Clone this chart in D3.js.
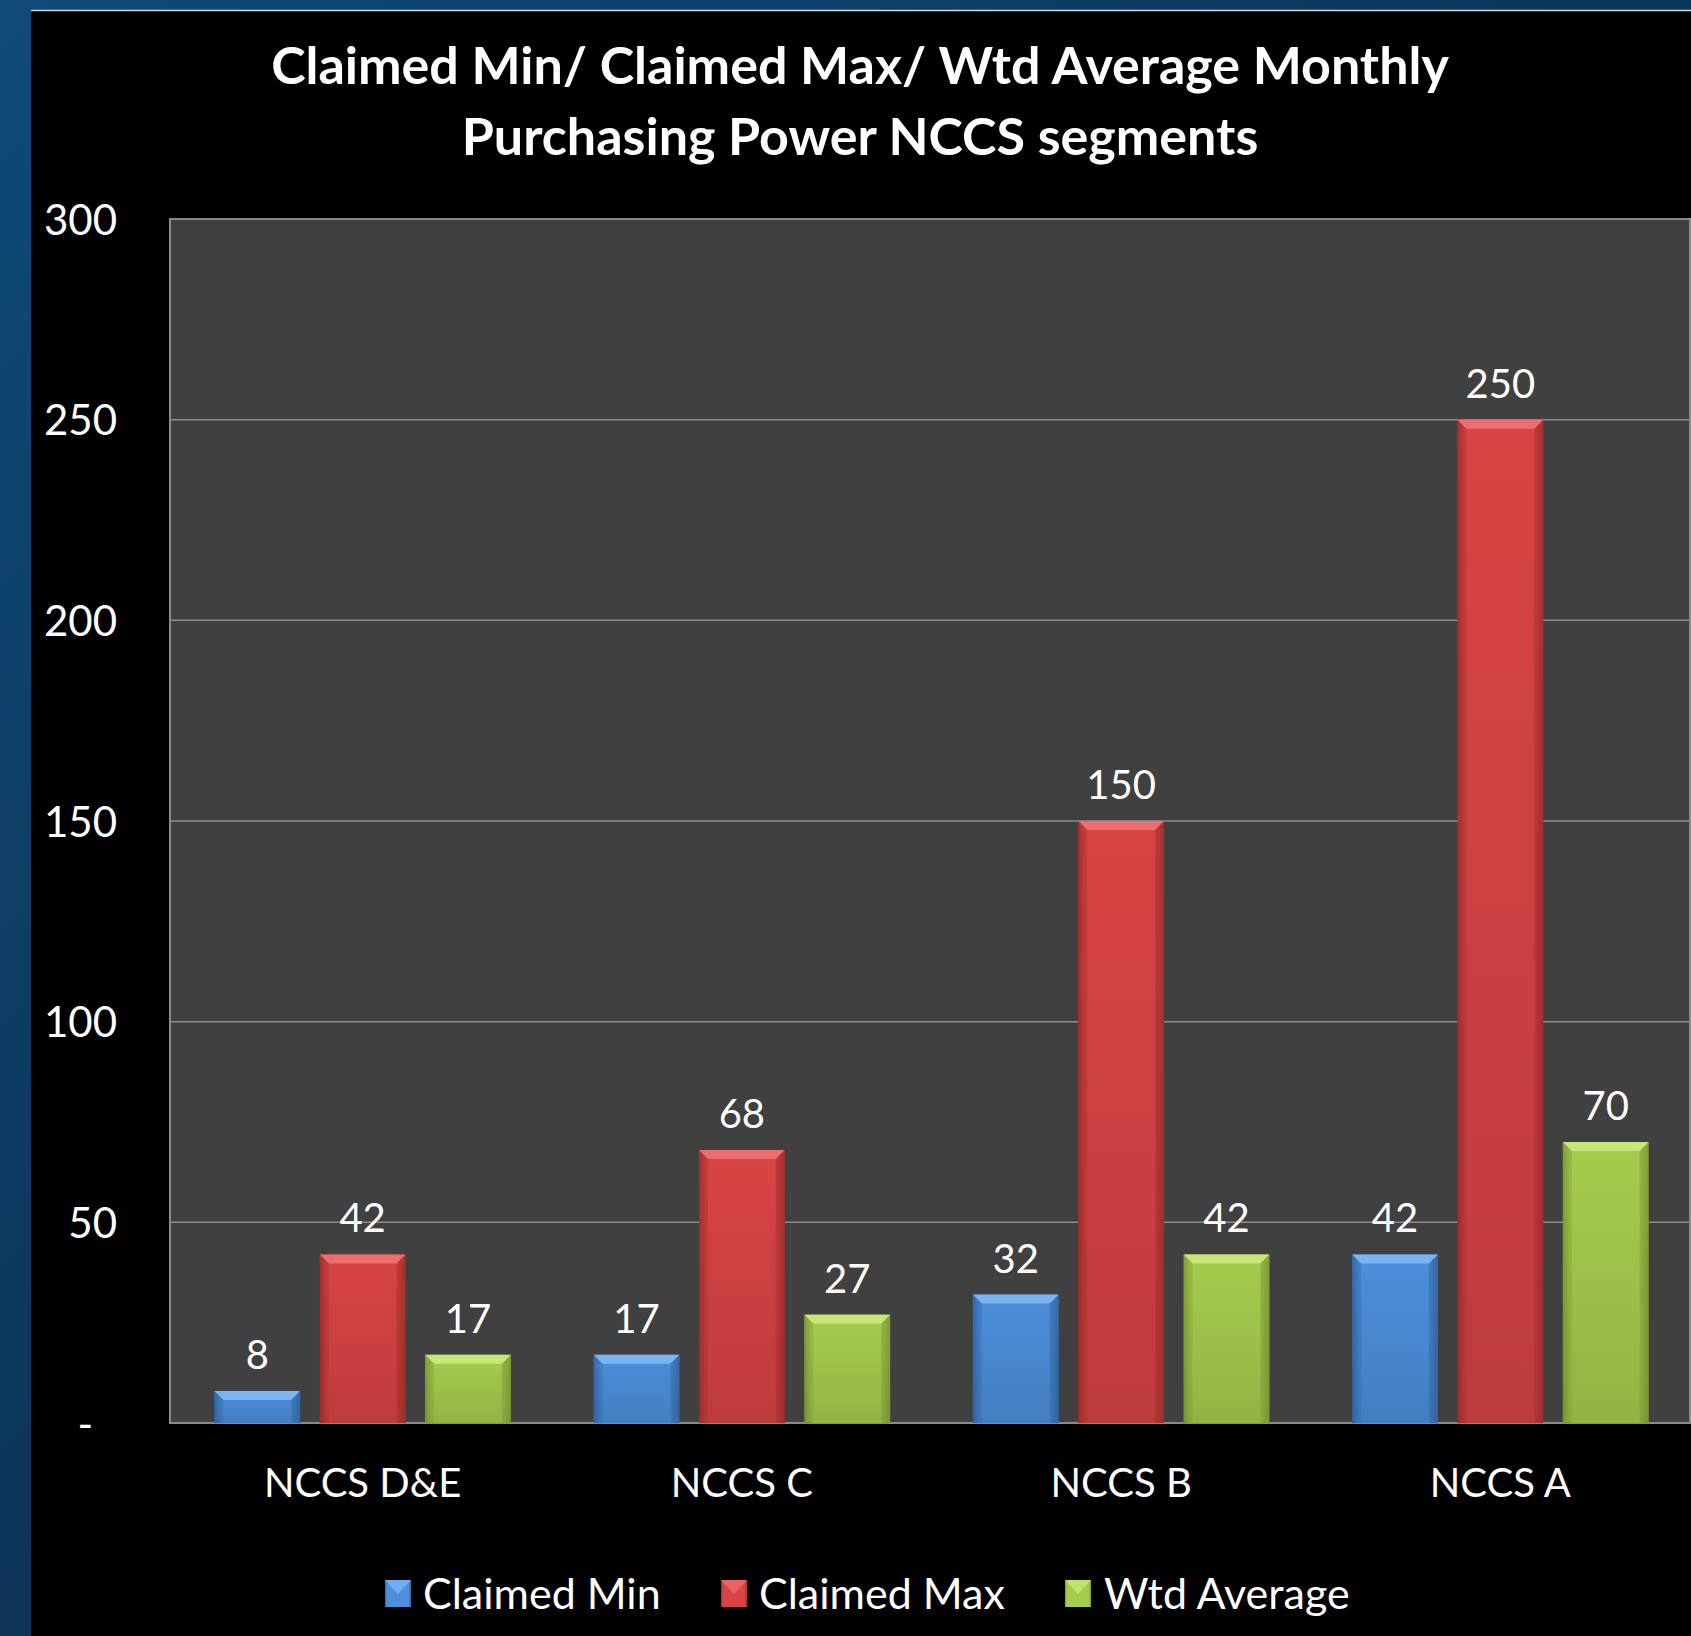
<!DOCTYPE html>
<html><head><meta charset="utf-8">
<script src="https://cdn.jsdelivr.net/npm/d3@7"></script>
<style>html,body{margin:0;padding:0;background:#0d2f4f;overflow:hidden}</style>
</head><body>
<svg id="c" width="1691" height="1636"></svg>
<script>
const categories = ["NCCS D&E", "NCCS C", "NCCS B", "NCCS A"];
const seriesNames = ["Claimed Min", "Claimed Max", "Wtd Average"];
const claimedMin = [8, 17, 32, 42];
const claimedMax = [42, 68, 150, 250];
const wtdAverage = [17, 27, 42, 70];
const yTicks = [0, 50, 100, 150, 200, 250, 300];
const titleLines = ["Claimed Min/ Claimed Max/ Wtd Average Monthly", "Purchasing Power NCCS segments"];

const seriesValues = [claimedMin, claimedMax, wtdAverage];
const palette = [
  {mid:"#4d8fdb", edge:"#3569a8", top:"#7cb4f2"},
  {mid:"#d84444", edge:"#a52f2f", top:"#ec6e6e"},
  {mid:"#a6cc4e", edge:"#7f9e36", top:"#c8e77a"}
];

const W = 1691, H = 1636;
const svg = d3.select("#c");
const font = "Lato, 'Open Sans', sans-serif";

// background
const defs = svg.append("defs");
const bg = defs.append("linearGradient").attr("id","bg").attr("x1",0).attr("y1",0).attr("x2",1).attr("y2",1);
bg.append("stop").attr("offset",0).attr("stop-color","#0f4a78");
bg.append("stop").attr("offset",0.5).attr("stop-color","#0c3558");
bg.append("stop").attr("offset",1).attr("stop-color","#0a2c4a");
svg.append("rect").attr("width",W).attr("height",H).attr("fill","url(#bg)");
const panel = {x:31, y:10};
svg.append("rect").attr("x",panel.x).attr("y",panel.y).attr("width",W-panel.x).attr("height",H-panel.y).attr("fill","#000");
svg.append("line").attr("x1",panel.x).attr("x2",W).attr("y1",panel.y+0.5).attr("y2",panel.y+0.5).attr("stroke","#d8d8d8").attr("stroke-width",1.5);

// gradients for bars
palette.forEach((p,i)=>{
  const g = defs.append("linearGradient").attr("id","bar"+i).attr("x1",0).attr("x2",1).attr("y1",0).attr("y2",0);
  g.append("stop").attr("offset",0).attr("stop-color",p.edge);
  g.append("stop").attr("offset",0.08).attr("stop-color",p.mid);
  g.append("stop").attr("offset",0.9).attr("stop-color",p.mid);
  g.append("stop").attr("offset",1).attr("stop-color",p.edge);
  const v = defs.append("linearGradient").attr("id","shade"+i).attr("x1",0).attr("x2",0).attr("y1",0).attr("y2",1);
  v.append("stop").attr("offset",0).attr("stop-color","#000").attr("stop-opacity",0);
  v.append("stop").attr("offset",1).attr("stop-color","#000").attr("stop-opacity",0.12);
});

const plot = {left:170, top:219, right:1690, bottom:1423};
const y = d3.scaleLinear().domain([0,300]).range([plot.bottom, plot.top]);
const x0 = d3.scaleBand().domain(categories).range([plot.left + 3, plot.right]).paddingInner(0.218).paddingOuter(0.109);
const x1 = d3.scaleBand().domain(seriesNames).range([0, x0.bandwidth()]).paddingInner(0.185).paddingOuter(0);

// plot area
svg.append("rect").attr("x",plot.left).attr("y",plot.top).attr("width",plot.right-plot.left).attr("height",plot.bottom-plot.top)
  .attr("fill","#404040");
// gridlines
svg.append("g").selectAll("line").data(yTicks.filter(t=>t>0 && t<300)).join("line")
  .attr("x1",plot.left).attr("x2",plot.right).attr("y1",d=>y(d)).attr("y2",d=>y(d))
  .attr("stroke","#8c8c8c").attr("stroke-width",1.5);
svg.append("rect").attr("x",plot.left).attr("y",plot.top).attr("width",plot.right-plot.left).attr("height",plot.bottom-plot.top)
  .attr("fill","none").attr("stroke","#8a8a8a").attr("stroke-width",2);

// y axis
const yAxis = d3.axisLeft(y).tickValues(yTicks).tickSize(0).tickPadding(0)
  .tickFormat(d => d === 0 ? "-" : d3.format("d")(d));
const ya = svg.append("g").attr("transform",`translate(117,0)`).call(yAxis);
ya.select(".domain").remove();
ya.selectAll("text").attr("fill","#fff").attr("font-family",font).attr("font-size",42)
  .attr("dy","0.36em").attr("x",d=> d===0 ? -24 : 0);

// bars
const data = [];
categories.forEach((c,ci)=>seriesNames.forEach((s,si)=>data.push({c, s, si, v: seriesValues[si][ci]})));
const bars = svg.append("g");
const bevel = 9;
data.forEach(d=>{
  const bx = x0(d.c) + x1(d.s), bw = x1.bandwidth(), by = y(d.v), bh = y(0) - y(d.v);
  bars.append("rect").attr("x",bx).attr("y",by).attr("width",bw).attr("height",bh).attr("fill",`url(#bar${d.si})`);
  bars.append("rect").attr("x",bx).attr("y",by).attr("width",bw).attr("height",bh).attr("fill",`url(#shade${d.si})`);
  const b = Math.min(bevel, bh/2);
  bars.append("path").attr("d",`M${bx},${by}L${bx+bw},${by}L${bx+bw-b},${by+b}L${bx+b},${by+b}Z`)
    .attr("fill",palette[d.si].top);
  bars.append("path").attr("d",`M${bx},${by}L${bx+b},${by+b}L${bx+b},${by+bh}L${bx},${by+bh}Z`)
    .attr("fill",palette[d.si].edge).attr("opacity",0.4);
  bars.append("path").attr("d",`M${bx+bw},${by}L${bx+bw-b},${by+b}L${bx+bw-b},${by+bh}L${bx+bw},${by+bh}Z`)
    .attr("fill",palette[d.si].edge).attr("opacity",0.5);
  bars.append("text").attr("x",bx+bw/2).attr("y",by-22).attr("text-anchor","middle")
    .attr("fill","#fff").attr("font-family",font).attr("font-size",40).text(d.v);
});

// x axis labels
const xAxis = d3.axisBottom(x0).tickSize(0).tickPadding(0);
const xa = svg.append("g").attr("transform",`translate(0,1497)`).call(xAxis);
xa.select(".domain").remove();
xa.selectAll("text").attr("fill","#fff").attr("font-family",font).attr("font-size",40).attr("dy",0).attr("y",0);

// title
svg.append("g").selectAll("text").data(titleLines).join("text")
  .attr("x",860).attr("y",(d,i)=>84+i*71).attr("text-anchor","middle")
  .attr("fill","#fff").attr("font-family",font).attr("font-weight","bold").attr("font-size",52).text(d=>d);

// legend
const legendItems = [{sq:385, tx:423},{sq:721, tx:759},{sq:1065, tx:1104}];
const lg = svg.append("g");
seriesNames.forEach((s,i)=>{
  const it = legendItems[i];
  lg.append("rect").attr("x",it.sq).attr("y",1580).attr("width",26).attr("height",27).attr("fill",`url(#bar${i})`);
  lg.append("path").attr("d",`M${it.sq},1580L${it.sq+26},1580L${it.sq+13},1594Z`).attr("fill",palette[i].top).attr("opacity",0.8);
  lg.append("text").attr("x",it.tx).attr("y",1609).attr("fill","#fff").attr("font-family",font).attr("font-size",43).text(s);
});
</script>
</body></html>
